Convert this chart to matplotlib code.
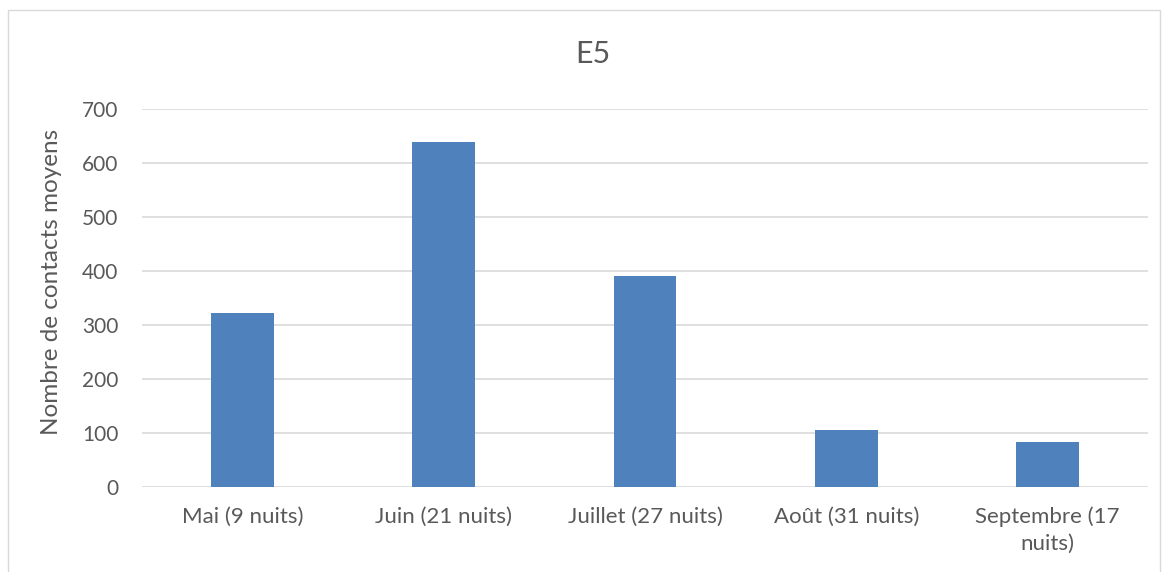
import matplotlib
matplotlib.use("Agg")
import matplotlib.pyplot as plt
from matplotlib.patches import Rectangle

categories = ["Mai (9 nuits)", "Juin (21 nuits)", "Juillet (27 nuits)",
              "Août (31 nuits)", "Septembre (17\nnuits)"]
values = [322, 638, 391, 106, 84]
yticks = [0, 100, 200, 300, 400, 500, 600, 700]

plt.rcParams['font.family'] = ['Lato', 'DejaVu Sans']

W, H = 1165, 572
fig = plt.figure(figsize=(W / 100, H / 100), dpi=100)
fig.patch.set_facecolor("white")

# chart frame
fig.patches.append(Rectangle((8 / W, -0.05), (1160 - 8) / W, 1.05 - 10 / H,
                             transform=fig.transFigure, fill=False,
                             edgecolor="#d9d9d9", linewidth=1.0))

ax = fig.add_axes([142 / W, 1 - 487 / H, (1148 - 142) / W, (487 - 109) / H])
x = list(range(len(categories)))
ax.bar(x, values, width=0.313, color="#4f81bd", zorder=3)
ax.set_xlim(-0.5, len(categories) - 0.5)
ax.set_ylim(0, 700)
ax.set_yticks(yticks)
ax.set_xticks(x)
ax.set_xticklabels(categories, fontsize=16, color="#595959", linespacing=1.45)
ax.tick_params(axis="y", labelsize=15, colors="#595959", length=0, pad=17)
ax.tick_params(axis="x", length=0, pad=14)
ax.grid(axis="y", color="#d9d9d9", linewidth=1.2, zorder=0)
for s in ax.spines.values():
    s.set_visible(False)
fig.text(52 / W, 1 - 282 / H, "Nombre de contacts moyens", rotation=90,
         ha="center", va="center", fontsize=17.5, color="#595959")
fig.text(593 / W, 1 - 54 / H, "E5", ha="center", va="center", fontsize=22, color="#595959")

fig.savefig("out.png", dpi=100)
